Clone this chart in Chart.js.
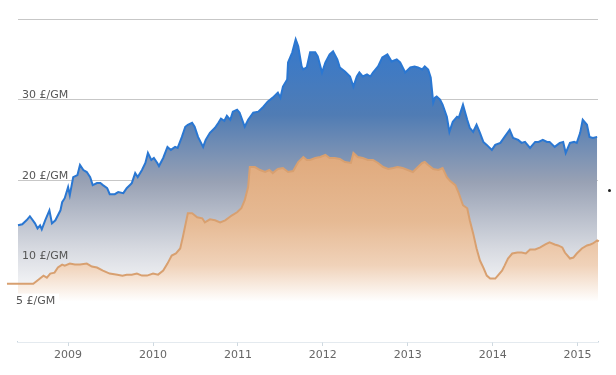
<!DOCTYPE html>
<html>
<head>
<meta charset="utf-8">
<script src="https://cdn.jsdelivr.net/npm/chart.js@4"></script>
<style>
  body { margin: 0; background: #fff; }
  #wrap { position: relative; width: 616px; height: 375px; }
  #dot { position: absolute; left: 608px; top: 189px; width: 3px; height: 3px; border-radius: 50%; background: #222; }
</style>
</head>
<body>
<div id="wrap">
  <canvas id="chart" width="616" height="375"></canvas>
  <div id="dot"></div>
</div>
<script>
// Price per gram-month, two series
const blueYears = [
  2008.41, 2008.46, 2008.51, 2008.55, 2008.61, 2008.64, 2008.67, 2008.69, 2008.73, 2008.78,
  2008.81, 2008.85, 2008.91, 2008.93, 2008.96, 2009.00, 2009.02, 2009.06, 2009.11, 2009.14,
  2009.18, 2009.22, 2009.26, 2009.29, 2009.34, 2009.38, 2009.41, 2009.46, 2009.49, 2009.55,
  2009.59, 2009.65, 2009.69, 2009.75, 2009.79, 2009.82, 2009.87, 2009.91, 2009.94, 2009.98,
  2010.01, 2010.05, 2010.07, 2010.12, 2010.17, 2010.21, 2010.26, 2010.29, 2010.34, 2010.38,
  2010.41, 2010.46, 2010.49, 2010.53, 2010.59, 2010.62, 2010.67, 2010.73, 2010.77, 2010.80,
  2010.84, 2010.87, 2010.91, 2010.94, 2010.99, 2011.02, 2011.08, 2011.12, 2011.18, 2011.24,
  2011.30, 2011.35, 2011.41, 2011.47, 2011.50, 2011.53, 2011.58, 2011.59, 2011.64, 2011.68,
  2011.71, 2011.75, 2011.77, 2011.81, 2011.85, 2011.91, 2011.94, 2011.99, 2012.03, 2012.08,
  2012.12, 2012.17, 2012.20, 2012.26, 2012.32, 2012.36, 2012.40, 2012.43, 2012.47, 2012.52,
  2012.56, 2012.59, 2012.65, 2012.70, 2012.76, 2012.81, 2012.87, 2012.91, 2012.97, 2013.03,
  2013.08, 2013.12, 2013.17, 2013.20, 2013.24, 2013.27, 2013.30, 2013.32, 2013.34, 2013.38,
  2013.41, 2013.46, 2013.49, 2013.53, 2013.58, 2013.60, 2013.65, 2013.70, 2013.73, 2013.77,
  2013.81, 2013.85, 2013.89, 2013.93, 2013.99, 2014.03, 2014.09, 2014.14, 2014.20, 2014.24,
  2014.30, 2014.34, 2014.38, 2014.44, 2014.50, 2014.54, 2014.59, 2014.64, 2014.67, 2014.73,
  2014.79, 2014.83, 2014.86, 2014.91, 2014.96, 2014.99, 2015.03, 2015.06, 2015.11, 2015.14,
  2015.18, 2015.23
];
const blueValues = [
  14.45, 14.57, 15.07, 15.57, 14.69, 14.07, 14.45, 13.95, 15.07, 16.31,
  14.69, 15.07, 16.31, 17.31, 17.81, 19.18, 18.18, 20.42, 20.67, 21.92,
  21.30, 21.05, 20.42, 19.43, 19.68, 19.68, 19.43, 19.05, 18.31, 18.31,
  18.56, 18.43, 19.05, 19.68, 20.92, 20.42, 21.30, 22.17, 23.41, 22.54,
  22.79, 22.17, 21.79, 22.79, 24.16, 23.79, 24.16, 24.03, 25.40, 26.65,
  26.90, 27.15, 26.65, 25.40, 24.16, 25.03, 25.90, 26.53, 27.15, 27.65,
  27.40, 28.02, 27.52, 28.52, 28.77, 28.39, 26.65, 27.52, 28.39, 28.52,
  29.14, 29.76, 30.26, 30.88, 30.26, 31.63, 32.50, 34.62, 35.87, 37.48,
  36.61, 34.12, 33.75, 34.00, 35.87, 35.87, 35.37, 33.37, 34.62, 35.62,
  35.99, 34.99, 34.00, 33.50, 32.88, 31.63, 32.88, 33.37, 32.88, 33.13,
  32.88, 33.37, 34.12, 35.24, 35.62, 34.74, 34.99, 34.62, 33.37, 34.00,
  34.12, 34.00, 33.75, 34.12, 33.75, 32.75, 29.64, 30.26, 30.39, 30.01,
  29.39, 27.90, 26.03, 27.27, 27.90, 27.77, 29.39, 27.52, 26.53, 26.03,
  26.90, 25.90, 24.78, 24.41, 23.79, 24.41, 24.66, 25.40, 26.28, 25.28,
  25.03, 24.66, 24.78, 24.03, 24.78, 24.78, 25.03, 24.78, 24.78, 24.16,
  24.66, 24.78, 23.41, 24.66, 24.78, 24.66, 25.90, 27.52, 26.90, 25.40,
  25.28, 25.40
];
const orangeYears = [
  2008.28, 2008.40, 2008.49, 2008.59, 2008.65, 2008.71, 2008.75, 2008.79, 2008.84, 2008.88,
  2008.93, 2008.96, 2009.02, 2009.08, 2009.14, 2009.22, 2009.28, 2009.34, 2009.41, 2009.49,
  2009.58, 2009.64, 2009.69, 2009.75, 2009.81, 2009.87, 2009.93, 2010.00, 2010.06, 2010.12,
  2010.17, 2010.22, 2010.27, 2010.32, 2010.35, 2010.41, 2010.46, 2010.52, 2010.58, 2010.61,
  2010.67, 2010.73, 2010.79, 2010.85, 2010.93, 2010.99, 2011.04, 2011.08, 2011.12, 2011.14,
  2011.20, 2011.26, 2011.32, 2011.37, 2011.41, 2011.47, 2011.53, 2011.59, 2011.65, 2011.71,
  2011.77, 2011.81, 2011.85, 2011.91, 2011.97, 2012.03, 2012.08, 2012.14, 2012.20, 2012.26,
  2012.33, 2012.36, 2012.41, 2012.47, 2012.53, 2012.59, 2012.65, 2012.71, 2012.77, 2012.83,
  2012.88, 2012.94, 2013.00, 2013.06, 2013.12, 2013.17, 2013.20, 2013.24, 2013.30, 2013.36,
  2013.41, 2013.46, 2013.50, 2013.56, 2013.60, 2013.65, 2013.70, 2013.73, 2013.77, 2013.81,
  2013.85, 2013.89, 2013.93, 2013.97, 2014.03, 2014.06, 2014.11, 2014.14, 2014.18, 2014.23,
  2014.29, 2014.34, 2014.39, 2014.44, 2014.50, 2014.56, 2014.62, 2014.67, 2014.73, 2014.77,
  2014.82, 2014.85, 2014.91, 2014.95, 2014.99, 2015.05, 2015.11, 2015.15, 2015.18, 2015.23,
  2015.25
];
const orangeValues = [
  7.22, 7.22, 7.22, 7.22, 7.72, 8.22, 7.97, 8.47, 8.59, 9.22,
  9.59, 9.46, 9.71, 9.59, 9.59, 9.71, 9.34, 9.22, 8.84, 8.47,
  8.34, 8.22, 8.34, 8.34, 8.47, 8.22, 8.22, 8.47, 8.34, 8.84,
  9.71, 10.71, 10.96, 11.58, 12.95, 15.94, 15.94, 15.44, 15.32, 14.82,
  15.19, 15.07, 14.82, 15.07, 15.69, 16.06, 16.56, 17.56, 19.18, 21.67,
  21.67, 21.30, 21.05, 21.30, 20.92, 21.42, 21.54, 21.05, 21.17, 22.29,
  22.91, 22.54, 22.54, 22.79, 22.91, 23.16, 22.79, 22.79, 22.67, 22.29,
  22.17, 23.41, 22.91, 22.79, 22.54, 22.54, 22.17, 21.67, 21.42, 21.54,
  21.67, 21.54, 21.30, 21.05, 21.67, 22.17, 22.29, 21.92, 21.42, 21.30,
  21.54, 20.42, 19.93, 19.43, 18.43, 16.94, 16.56, 15.07, 13.45, 11.58,
  10.09, 9.22, 8.22, 7.85, 7.85, 8.22, 8.84, 9.46, 10.34, 10.96,
  11.08, 11.08, 10.96, 11.46, 11.46, 11.71, 12.08, 12.33, 12.08, 11.96,
  11.71, 11.08, 10.34, 10.46, 10.96, 11.58, 11.96, 12.08, 12.20, 12.58,
  12.45
];
const xTickYears = [2009, 2010, 2011, 2012, 2013, 2014, 2015];
const yTickValues = [5, 10, 20, 30, 40];
const yLabelValues = [5, 10, 20, 30];
const xStart = 2008.41;
const xEnd = 2015.24;
const unitLabel = '£/GM';

const FONT = 'DejaVu Sans';

function toPoints(xs, ys) {
  return xs.map((x, i) => ({ x: x, y: ys[i] }));
}

function blueFill(ctx) {
  const chart = ctx.chart;
  const y = chart.scales.y;
  if (!chart.chartArea || !y) return 'rgba(80,125,185,0.6)';
  const g = chart.ctx.createLinearGradient(0, y.getPixelForValue(38), 0, y.getPixelForValue(5));
  g.addColorStop(0, 'rgb(52,121,206)');
  g.addColorStop(0.3, 'rgb(80,124,180)');
  g.addColorStop(0.55, 'rgb(152,161,180)');
  g.addColorStop(0.8, 'rgb(214,217,224)');
  g.addColorStop(1, 'rgb(255,255,255)');
  return g;
}

function orangeFill(ctx) {
  const chart = ctx.chart;
  const y = chart.scales.y;
  if (!chart.chartArea || !y) return 'rgb(225,172,128)';
  const g = chart.ctx.createLinearGradient(0, y.getPixelForValue(23), 0, y.getPixelForValue(5));
  g.addColorStop(0, 'rgb(224,170,125)');
  g.addColorStop(0.45, 'rgb(230,186,148)');
  g.addColorStop(0.75, 'rgb(240,210,185)');
  g.addColorStop(1, 'rgb(255,255,255)');
  return g;
}

// y labels sit inside the plot, above their grid line; "5" is boxed on its line
const yLabels = {
  id: 'yLabels',
  afterDraw(chart) {
    const ctx = chart.ctx;
    const y = chart.scales.y;
    ctx.save();
    ctx.font = '11px "' + FONT + '"';
    ctx.fillStyle = '#555';
    yLabelValues.forEach(v => {
      const py = y.getPixelForValue(v);
      const text = v + ' ' + unitLabel;
      if (v === 5) {
        ctx.fillStyle = '#fff';
        ctx.fillRect(10, py - 8, 49, 16);
        ctx.fillStyle = '#555';
        ctx.textBaseline = 'middle';
        ctx.fillText(text, 16, py);
      } else {
        ctx.textBaseline = 'alphabetic';
        ctx.fillText(text, 22, py - 2);
      }
    });
    ctx.restore();
  }
};

new Chart(document.getElementById('chart'), {
  type: 'line',
  data: {
    datasets: [
      {
        data: toPoints(orangeYears, orangeValues),
        borderColor: 'rgb(216,160,112)',
        borderWidth: 2,
        backgroundColor: orangeFill,
        fill: 'origin',
        pointRadius: 0,
        tension: 0,
        clip: false
      },
      {
        data: toPoints(blueYears, blueValues),
        borderColor: 'rgb(42,119,210)',
        borderWidth: 2,
        backgroundColor: blueFill,
        fill: 'origin',
        pointRadius: 0,
        tension: 0
      }
    ]
  },
  options: {
    responsive: false,
    animation: false,
    layout: { padding: { left: 18, right: 18, top: 19, bottom: 0 } },
    plugins: { legend: { display: false }, tooltip: { enabled: false } },
    scales: {
      x: {
        type: 'linear',
        bounds: 'data',
        afterDataLimits: s => { s.min = xStart; s.max = xEnd; },
        afterBuildTicks: s => { s.ticks = xTickYears.map(v => ({ value: v })); },
        afterFit: s => { s.height = 33; },
        grid: { drawOnChartArea: false, drawTicks: true, tickLength: 4, tickColor: '#cfd9e0' },
        border: { color: '#c9d6df', width: 1.5 },
        ticks: {
          color: '#666',
          font: { family: FONT, size: 11 },
          padding: 3,
          maxRotation: 0,
          callback: v => String(v)
        }
      },
      y: {
        min: 0,
        max: 40,
        z: 1,
        afterBuildTicks: s => { s.ticks = yTickValues.map(v => ({ value: v })); },
        afterFit: s => { s.width = 0; },
        border: { display: false },
        grid: { color: 'rgba(0,0,0,0.22)', lineWidth: 1, drawTicks: false },
        ticks: { display: false }
      }
    }
  },
  plugins: [yLabels]
});
</script>
</body>
</html>
